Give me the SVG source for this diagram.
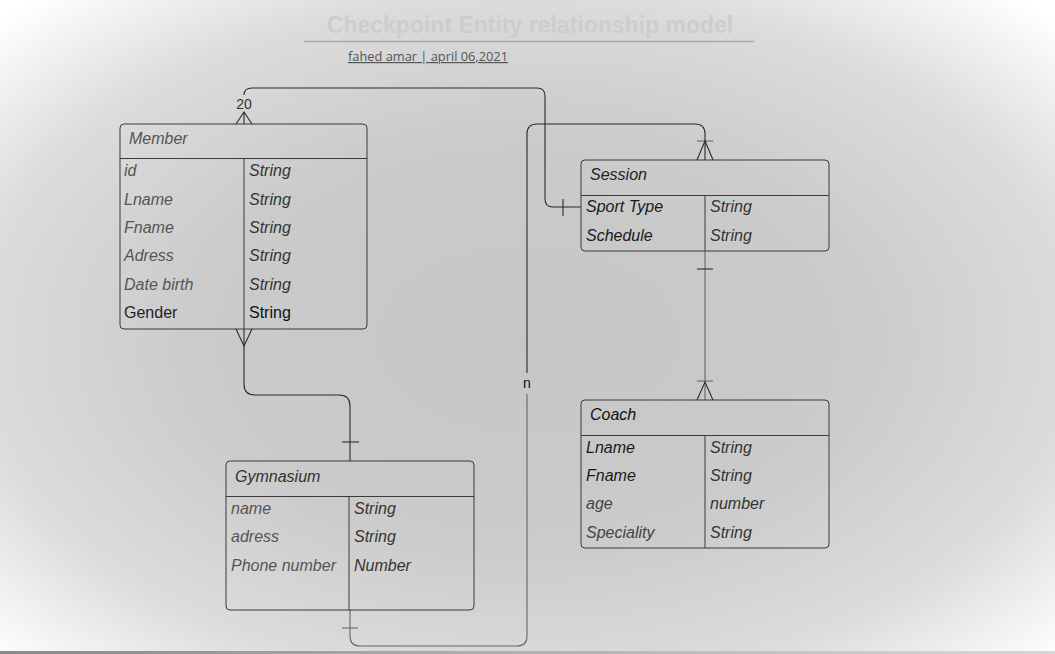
<svg xmlns="http://www.w3.org/2000/svg" width="1055" height="654" viewBox="0 0 1055 654">
<defs>
<radialGradient id="bg" cx="0.5" cy="0.52" r="0.7">
<stop offset="0" stop-color="#c6c6c6"/>
<stop offset="0.45" stop-color="#cbcbcb"/>
<stop offset="0.75" stop-color="#dcdcdc"/>
<stop offset="1" stop-color="#ffffff"/>
</radialGradient>
<linearGradient id="strip" x1="0" y1="0" x2="1" y2="0">
<stop offset="0" stop-color="#8a8a8a"/>
<stop offset="1" stop-color="#d8d8d8"/>
</linearGradient>
</defs>
<style>
.box{fill:none;stroke:#3a3a3a;stroke-width:1}
.div{stroke:#3a3a3a;stroke-width:1}
.t{font-family:"Liberation Sans",Arial,sans-serif;font-size:16px;font-style:italic}
.n{font-style:normal}
.a{fill:#555}
.d{fill:#1a1a1a}
.ty{fill:#333}
.c{fill:none;stroke:#2a2a2a;stroke-width:1.1}
.cl{fill:none;stroke:#666;stroke-width:1.1}
.lbl{font-family:"Liberation Sans",Arial,sans-serif;font-size:14px;text-anchor:middle}
</style>
<rect x="0" y="0" width="1055" height="654" fill="url(#bg)"/>
<rect x="0" y="651" width="1055" height="3" fill="url(#strip)"/>

<g id="title">
<text x="530" y="33" text-anchor="middle" font-family="Liberation Sans,Arial,sans-serif" font-size="23" font-weight="bold" fill="#cdcdcd">Checkpoint Entity relationship model</text>
<line x1="304" y1="41.5" x2="754" y2="41.5" stroke="#a8a8a8" stroke-width="1.5"/>
<text x="348" y="61" font-family="Open Sans,Liberation Sans,sans-serif" font-size="12" fill="#555" textLength="160" lengthAdjust="spacingAndGlyphs" text-decoration="underline">fahed amar | april 06,2021</text>
</g>

<g id="connectors">
<path class="c" d="M244,124 L244,112"/>
<path class="c" d="M236,124 L244,112 L252,124"/>
<text class="lbl" x="244" y="109" fill="#333">20</text>
<path class="c" d="M244,95 Q244,88 252,88 L537,88 Q545,88 545,96 L545,199 Q545,207 553,207 L581,207"/>
<path class="c" d="M563,199 L563,216"/>
<path class="c" d="M236,329 L244,346 L252,329"/>
<path class="c" d="M244,329 L244,384 Q244,395 255,395 L339,395 Q350,395 350,406 L350,461"/>
<path class="c" d="M342,442 L359,442"/>
<path class="cl" d="M350,610 L350,636 Q350,646 360,646 L517,646 Q527,646 527,636 L527,394"/>
<path class="c" d="M527,373 L527,134 Q527,124 537,124 L695,124 Q705,124 705,134 L705,160"/>
<path class="cl" d="M342,628 L358,628"/>
<path class="cl" d="M697,141 L713,141"/>
<path class="c" d="M697,160 L705,141 L713,160"/>
<text class="lbl" x="527" y="388" fill="#111">n</text>
<path class="cl" d="M705,251 L705,400"/>
<path class="c" d="M697,269 L713,269"/>
<path class="cl" d="M697,381 L713,381"/>
<path class="c" d="M697,400 L705,382 L713,400"/>
</g>

<g id="member">
<rect class="box" x="120" y="124" width="247" height="205" rx="4"/>
<line class="div" x1="120" y1="158.5" x2="367" y2="158.5"/>
<line class="div" x1="244" y1="158" x2="244" y2="329"/>
<text class="t a" x="129" y="144">Member</text>
<text class="t a" x="124" y="176">id</text>
<text class="t ty" x="249" y="176">String</text>
<text class="t a" x="124" y="204.5">Lname</text>
<text class="t ty" x="249" y="204.5">String</text>
<text class="t a" x="124" y="233">Fname</text>
<text class="t ty" x="249" y="233">String</text>
<text class="t a" x="124" y="261">Adress</text>
<text class="t ty" x="249" y="261">String</text>
<text class="t a" x="124" y="289.5">Date birth</text>
<text class="t ty" x="249" y="289.5">String</text>
<text class="t n" x="124" y="318" fill="#222">Gender</text>
<text class="t n" x="249" y="318" fill="#111">String</text>
</g>

<g id="gymnasium">
<rect class="box" x="226" y="461" width="248" height="149" rx="4"/>
<line class="div" x1="226" y1="496.5" x2="474" y2="496.5"/>
<line class="div" x1="349" y1="496" x2="349" y2="610"/>
<text class="t" x="235" y="482" fill="#333">Gymnasium</text>
<text class="t a" x="231" y="514">name</text>
<text class="t ty" x="354" y="514">String</text>
<text class="t a" x="231" y="542">adress</text>
<text class="t ty" x="354" y="542">String</text>
<text class="t a" x="231" y="570.5">Phone number</text>
<text class="t ty" x="354" y="570.5">Number</text>
</g>

<g id="session">
<rect class="box" x="581" y="160" width="248" height="91" rx="4"/>
<line class="div" x1="581" y1="195.5" x2="829" y2="195.5"/>
<line class="div" x1="705" y1="195" x2="705" y2="251"/>
<text class="t" x="590" y="180" fill="#222">Session</text>
<text class="t d" x="586" y="212">Sport Type</text>
<text class="t ty" x="710" y="212">String</text>
<text class="t d" x="586" y="240.5">Schedule</text>
<text class="t ty" x="710" y="240.5">String</text>
</g>

<g id="coach">
<rect class="box" x="581" y="400" width="248" height="148" rx="4"/>
<line class="div" x1="581" y1="435.5" x2="829" y2="435.5"/>
<line class="div" x1="705" y1="435" x2="705" y2="548"/>
<text class="t" x="590" y="420" fill="#111">Coach</text>
<text class="t d" x="586" y="452.5">Lname</text>
<text class="t ty" x="710" y="452.5">String</text>
<text class="t d" x="586" y="481">Fname</text>
<text class="t ty" x="710" y="481">String</text>
<text class="t" x="586" y="509" fill="#444">age</text>
<text class="t ty" x="710" y="509">number</text>
<text class="t" x="586" y="537.5" fill="#444">Speciality</text>
<text class="t ty" x="710" y="537.5">String</text>
</g>
</svg>
